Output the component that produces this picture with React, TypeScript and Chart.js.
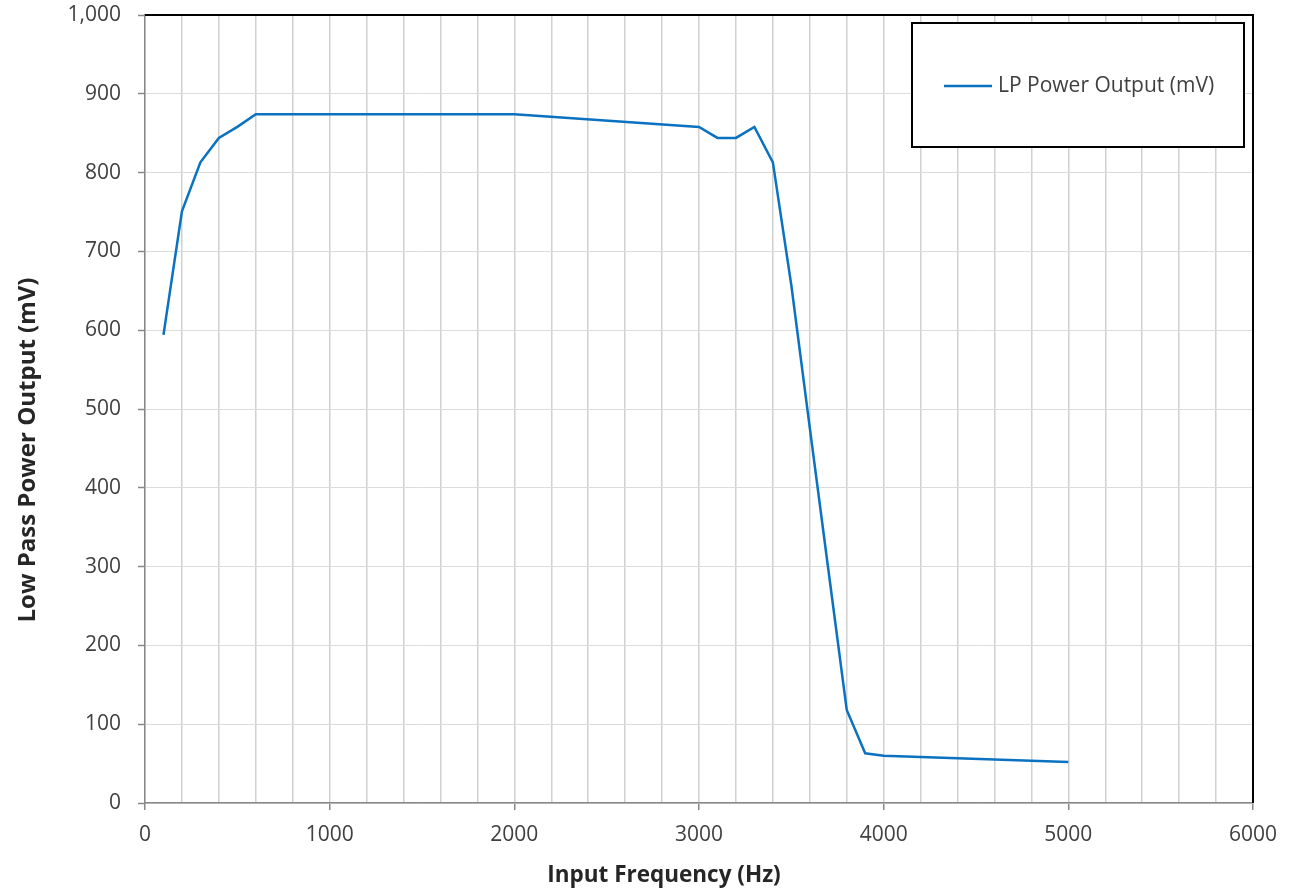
import React, { useEffect, useRef } from 'react';
import { Chart, registerables } from 'chart.js';

Chart.register(...registerables);

// ---- data ----
const frequencies = [100, 200, 300, 400, 500, 600, 700, 800, 900, 1000, 2000, 3000, 3100, 3200, 3300, 3400, 3500, 3600, 3700, 3800, 3900, 4000, 5000];
const outputs = [594, 751, 813, 844, 858, 874, 874, 874, 874, 874, 874, 858, 844, 844, 858, 813, 657, 476, 297, 118, 63, 60, 52];
const seriesLabel = 'LP Power Output (mV)';
const xTitle = 'Input Frequency (Hz)';
const yTitle = 'Low Pass Power Output (mV)';
const xRange = [0, 6000];
const xGridStep = 200;
const xLabelStep = 1000;
const yRange = [0, 1000];
const yStep = 100;

const W = 1292;
const H = 892;
const FONT = '"Open Sans", "Noto Sans", sans-serif';
const LINE_COLOR = '#0a72c0';

const decorPlugin = {
  id: 'decor',
  afterDraw(chart: any) {
    const { ctx, chartArea } = chart;
    const { left, right, top, bottom } = chartArea;
    ctx.save();
    // top and right black border
    ctx.strokeStyle = '#000';
    ctx.lineWidth = 2;
    ctx.beginPath();
    ctx.moveTo(left, top);
    ctx.lineTo(right, top);
    ctx.lineTo(right, bottom);
    ctx.stroke();

    // legend box
    const bx = 912, by = 23, bw = 332, bh = 124;
    ctx.fillStyle = '#fff';
    ctx.fillRect(bx, by, bw, bh);
    ctx.strokeStyle = '#000';
    ctx.lineWidth = 2;
    ctx.strokeRect(bx, by, bw, bh);
    const ly = by + 63;
    ctx.strokeStyle = LINE_COLOR;
    ctx.lineWidth = 2.5;
    ctx.beginPath();
    ctx.moveTo(944, ly);
    ctx.lineTo(992, ly);
    ctx.stroke();
    ctx.fillStyle = '#404040';
    ctx.font = `21px ${FONT}`;
    ctx.textAlign = 'left';
    ctx.textBaseline = 'middle';
    ctx.fillText(chart.data.datasets[0].label, 998, ly);

    // axis titles
    ctx.fillStyle = '#262626';
    ctx.font = `bold 22.5px ${FONT}`;
    ctx.textAlign = 'center';
    ctx.textBaseline = 'alphabetic';
    ctx.fillText(xTitle, 664, 882);
    ctx.font = `bold 24px ${FONT}`;
    ctx.translate(35, 450);
    ctx.rotate(-Math.PI / 2);
    ctx.fillText(yTitle, 0, 0);
    ctx.restore();
  },
};

export default function App() {
  const ref = useRef<HTMLCanvasElement | null>(null);

  useEffect(() => {
    document.body.style.margin = '0';
    const canvas = ref.current;
    if (!canvas) return;
    const chart = new Chart(canvas, {
      type: 'line',
      data: {
        datasets: [
          {
            label: seriesLabel,
            data: frequencies.map((f, i) => ({ x: f, y: outputs[i] })),
            borderColor: LINE_COLOR,
            backgroundColor: LINE_COLOR,
            borderWidth: 2.5,
            pointRadius: 0,
            tension: 0,
            fill: false,
          },
        ],
      },
      options: {
        responsive: false,
        animation: false,
        layout: { padding: { left: 0, top: 15, right: 39, bottom: 0 } },
        plugins: {
          legend: { display: false },
          tooltip: { enabled: false },
          title: { display: false },
        },
        scales: {
          x: {
            type: 'linear',
            min: xRange[0],
            max: xRange[1],
            afterFit(scale: any) {
              scale.height = H - 803;
              scale.paddingLeft = 0;
              scale.paddingRight = 0;
            },
            ticks: {
              stepSize: xGridStep,
              autoSkip: false,
              maxRotation: 0,
              padding: 12,
              color: '#404040',
              font: { family: FONT, size: 21 },
              callback: (v: any) => (Number(v) % xLabelStep === 0 ? String(v) : ''),
            },
            grid: {
              color: '#d0d0d0',
              lineWidth: 1.5,
              tickLength: 7,
              tickWidth: 1.5,
              tickColor: (c: any) => (c.tick && c.tick.value % xLabelStep === 0 ? '#888888' : 'rgba(0,0,0,0)'),
            },
            border: { color: '#888888', width: 1.5 },
          },
          y: {
            type: 'linear',
            min: yRange[0],
            max: yRange[1],
            afterFit(scale: any) {
              scale.width = 145;
              scale.paddingTop = 0;
              scale.paddingBottom = 0;
            },
            ticks: {
              stepSize: yStep,
              padding: 17,
              color: '#404040',
              font: { family: FONT, size: 21 },
              callback: (v: any) => Number(v).toLocaleString('en-US'),
            },
            grid: {
              color: '#dcdcdc',
              lineWidth: 1,
              tickLength: 7,
              tickColor: '#888888',
              tickWidth: 1.5,
            },
            border: { color: '#888888', width: 1.5 },
          },
        },
      },
      plugins: [decorPlugin],
    });
    return () => chart.destroy();
  }, []);

  return (
    <div style={{ width: W, height: H, background: '#fff' }}>
      <canvas ref={ref} width={W} height={H} style={{ display: 'block' }} />
    </div>
  );
}
